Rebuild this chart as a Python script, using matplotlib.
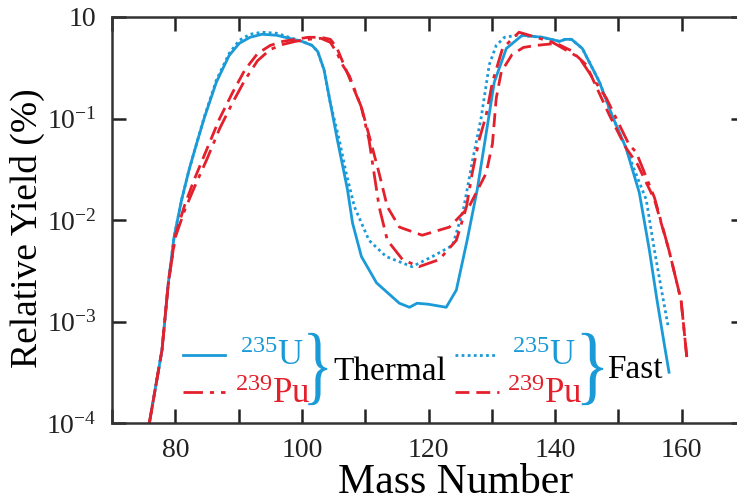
import numpy as np
import matplotlib.pyplot as plt
import matplotlib.transforms as mtransforms
from matplotlib.textpath import TextPath
from matplotlib.patches import PathPatch
from matplotlib.font_manager import FontProperties

plt.rcParams['font.family'] = ['Liberation Serif', 'DejaVu Serif']
plt.rcParams['mathtext.fontset'] = 'custom'
plt.rcParams['mathtext.rm'] = 'Liberation Serif'
plt.rcParams['mathtext.it'] = 'Liberation Serif:italic'

BLUE = '#1b9ad8'
RED = '#e3202c'

# mass number and log10 of relative yield (%) for each curve
u_th_A = [75.9, 77.9, 78.9, 79.8, 81.0, 82.2, 83.4, 84.6, 86.5, 88.5, 90.1, 91.8,
          93.7, 96.0, 98.0, 100.0, 101.6, 102.5, 103.5, 104.5, 105.6, 107.2, 108.0,
          109.4, 111.8, 115.4, 117.0, 118.2, 120.0, 122.8, 124.4, 126.1, 127.7,
          129.1, 130.4, 132.3, 134.8, 138.0, 140.7, 141.6, 142.6, 144.3, 147.0,
          149.0, 151.2, 153.3, 154.9, 156.1, 157.4, 158.0]
u_th_log = [-4.00, -3.28, -2.62, -2.17, -1.80, -1.50, -1.24, -0.99, -0.64, -0.38, -0.26, -0.20,
            -0.17, -0.18, -0.21, -0.24, -0.28, -0.34, -0.52, -0.85, -1.21, -1.70, -2.03,
            -2.36, -2.62, -2.82, -2.86, -2.82, -2.83, -2.86, -2.69, -2.20, -1.70,
            -1.15, -0.64, -0.31, -0.18, -0.20, -0.24, -0.22, -0.22, -0.31, -0.64,
            -0.97, -1.29, -1.73, -2.30, -2.79, -3.28, -3.50]

u_fa_A = [75.9, 77.9, 78.9, 79.8, 81.0, 82.2, 83.4, 84.6, 86.5, 88.5, 90.1, 91.8,
          93.7, 96.0, 98.0, 100.0, 101.6, 102.5, 103.5, 104.5, 105.9, 107.0, 108.3,
          110.6, 113.3, 117.4, 120.6, 123.8, 125.5, 127.0, 128.3, 129.6, 130.7,
          132.0, 134.0, 138.0, 140.7, 141.6, 142.6, 144.3, 147.0, 149.0, 151.2,
          152.8, 154.4, 155.7, 157.1, 157.9]
u_fa_log = [-4.00, -3.28, -2.62, -2.17, -1.80, -1.50, -1.24, -0.98, -0.62, -0.36, -0.23, -0.17,
            -0.15, -0.16, -0.20, -0.24, -0.28, -0.34, -0.52, -0.85, -1.21, -1.54, -1.87,
            -2.20, -2.36, -2.46, -2.36, -2.25, -1.90, -1.40, -1.00, -0.47, -0.28,
            -0.20, -0.18, -0.20, -0.24, -0.22, -0.22, -0.31, -0.64, -0.97, -1.29,
            -1.55, -1.80, -2.30, -2.79, -3.06]

pu_th_A = [75.9, 77.9, 78.9, 80.0, 81.5, 83.0, 85.0, 87.0, 89.0, 91.0, 93.0, 95.0,
           97.0, 99.0, 101.0, 103.0, 104.5, 105.5, 106.5, 107.5, 109.4, 110.6, 111.4,
           112.2, 113.5, 115.9, 118.5, 121.7, 124.4, 126.0, 126.9, 128.0, 129.1,
           130.1, 131.7, 134.3, 137.0, 139.6, 143.8, 148.1, 151.7, 152.8, 155.7,
           158.0, 159.9, 160.9]
pu_th_log = [-4.00, -3.28, -2.62, -2.17, -1.90, -1.68, -1.40, -1.10, -0.85, -0.62, -0.43, -0.32,
             -0.27, -0.24, -0.22, -0.21, -0.25, -0.35, -0.48, -0.58, -0.89, -1.21, -1.54,
             -1.87, -2.20, -2.39, -2.46, -2.39, -2.20, -1.87, -1.54, -1.21, -0.97,
             -0.64, -0.31, -0.15, -0.20, -0.25, -0.40, -0.80, -1.26, -1.33, -1.78,
             -2.30, -2.79, -3.41]

pu_fa_A = [75.9, 77.9, 78.9, 80.0, 81.5, 83.0, 85.0, 87.0, 89.0, 91.0, 93.0, 95.0,
           97.0, 99.0, 101.0, 103.0, 104.5, 105.5, 106.5, 107.5, 109.4, 110.8, 112.2,
           113.5, 115.4, 119.0, 123.3, 126.4, 129.1, 130.1, 130.7, 131.5, 133.2,
           135.0, 137.0, 140.2, 142.5, 144.9, 148.6, 151.2, 153.0, 155.7, 158.0,
           159.9, 160.9]
pu_fa_log = [-4.00, -3.28, -2.62, -2.15, -1.85, -1.60, -1.30, -1.00, -0.75, -0.52, -0.36, -0.28,
             -0.24, -0.22, -0.20, -0.20, -0.22, -0.30, -0.45, -0.60, -0.89, -1.21, -1.54,
             -1.87, -2.07, -2.15, -2.07, -1.87, -1.54, -1.25, -0.80, -0.54, -0.37,
             -0.30, -0.28, -0.26, -0.33, -0.47, -0.97, -1.29, -1.45, -1.80, -2.30,
             -2.79, -3.41]

y_ticks = [1e-4, 1e-3, 1e-2, 1e-1, 1e0]
y_ticklabels = ['10$^{-4}$', '10$^{-3}$', '10$^{-2}$', '10$^{-1}$', '10']
x_ticks = [70, 80, 90, 100, 110, 120, 130, 140, 150, 160, 170]


def brace(ax, x0, x1, y0, y1, color):
    # a "}" glyph stretched into the given box (axes fraction)
    tp = TextPath((0, 0), '}', size=1, prop=FontProperties(family='Liberation Serif'))
    ext = tp.get_extents()
    tr = (mtransforms.Affine2D().translate(-ext.x0, -ext.y0)
          .scale((x1 - x0) / ext.width, (y1 - y0) / ext.height).translate(x0, y0))
    ax.add_patch(PathPatch(tr.transform_path(tp), transform=ax.transAxes,
                           facecolor=color, edgecolor='none', clip_on=False))


fig = plt.figure(figsize=(7.37, 5.04), dpi=100)
ax = fig.add_axes([112 / 737, 81 / 504, 633 / 737, 406 / 504])

ax.plot(u_th_A, 10 ** np.array(u_th_log), color=BLUE, lw=2.0, ls='-')
ax.plot(u_fa_A, 10 ** np.array(u_fa_log), color=BLUE, lw=2.0, ls=(0, (1, 1.2)))
ax.plot(pu_th_A, 10 ** np.array(pu_th_log), color=RED, lw=2.0, ls=(0, (7, 2.5, 1.5, 2.5)))
ax.plot(pu_fa_A, 10 ** np.array(pu_fa_log), color=RED, lw=2.0, ls=(0, (5, 2.5)))

ax.set_yscale('log')
ax.set_xlim(70, 170)
ax.set_ylim(1e-4, 1e0)
ax.set_yticks(y_ticks)
ax.set_yticklabels(y_ticklabels)
ax.yaxis.set_minor_locator(plt.NullLocator())
ax.set_xticks(x_ticks)
ax.set_xticklabels([str(t) if t % 20 == 0 and 70 < t < 170 else '' for t in x_ticks])
ax.tick_params(direction='in', length=10, width=1.8, top=True, right=True,
               labelsize=20, pad=11, colors='#222222')
for s in ax.spines.values():
    s.set_linewidth(1.8)
    s.set_color('#333333')

fig.text(456 / 737, 1 - 493 / 504, 'Mass Number', fontsize=30, ha='center', va='baseline')
fig.text(27 / 737, 1 - 228 / 504, 'Relative Yield (%)', fontsize=27, rotation=90,
         ha='center', va='center')

# legend drawn by hand: two groups joined by braces
tr = ax.transAxes
ax.plot([0.112, 0.179], [0.167, 0.167], transform=tr, color=BLUE, lw=2.0, clip_on=False)
ax.plot([0.112, 0.179], [0.076, 0.076], transform=tr, color=RED, lw=2.0,
        ls=(0, (7, 2.5, 1.5, 2.5)), clip_on=False)
ax.plot([0.542, 0.608], [0.167, 0.167], transform=tr, color=BLUE, lw=2.0,
        ls=(0, (1, 1.2)), clip_on=False)
ax.plot([0.542, 0.612], [0.076, 0.076], transform=tr, color=RED, lw=2.0,
        ls=(0, (5, 2.5)), clip_on=False)

ax.text(0.202, 0.143, '$^{235}$U', transform=tr, color=BLUE, fontsize=25, va='baseline')
ax.text(0.194, 0.049, '$^{239}$Pu', transform=tr, color=RED, fontsize=25, va='baseline')
ax.text(0.632, 0.143, '$^{235}$U', transform=tr, color=BLUE, fontsize=25, va='baseline')
ax.text(0.624, 0.049, '$^{239}$Pu', transform=tr, color=RED, fontsize=25, va='baseline')

brace(ax, 0.310, 0.340, 0.044, 0.222, BLUE)
brace(ax, 0.742, 0.776, 0.044, 0.222, BLUE)
ax.text(0.349, 0.106, 'Thermal', transform=tr, color='black', fontsize=24, va='baseline')
ax.text(0.782, 0.111, 'Fast', transform=tr, color='black', fontsize=24, va='baseline')

fig.savefig('out.png', dpi=100)
